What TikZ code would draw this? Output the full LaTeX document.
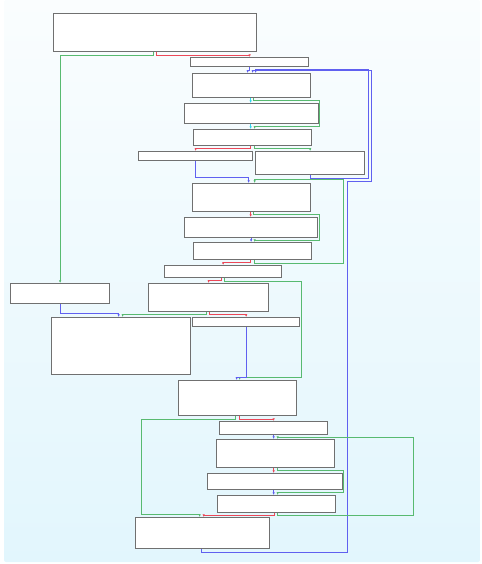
\documentclass[tikz,border=0pt]{standalone}
\usepackage{tikz}
\usetikzlibrary{positioning}
\usetikzlibrary{arrows.meta}
\usepackage{xcolor}
\definecolor{edgegreen}{RGB}{88,186,112}
\definecolor{edgered}{RGB}{236,72,88}
\definecolor{edgeblue}{RGB}{96,96,240}
\definecolor{edgecyan}{RGB}{50,214,238}
\definecolor{boxline}{RGB}{112,112,112}
\definecolor{bgtop}{RGB}{250,253,254}
\definecolor{bgbottom}{RGB}{226,246,253}

\begin{document}
\begin{tikzpicture}[x=1bp, y=-1bp,
		blk/.style={draw=boxline, line width=1.3bp, fill=white, inner sep=0pt, anchor=north west},
		edge/.style={line width=1bp, -{Latex[length=2.6bp,width=2.4bp]}},
		yes/.style={edge, edgegreen},
		no/.style={edge, edgered},
		jmp/.style={edge, edgeblue},
		seq/.style={edge, edgecyan}]
				\useasboundingbox (0,0) rectangle (482,564);
				\shade[top color=bgtop, bottom color=bgbottom, rounded corners=2bp] (4,0) rectangle (480,562);

				\node[blk, minimum width=203bp, minimum height=38bp] (A) at (53,13) {};
				\node[blk, minimum width=118bp, minimum height=9bp] (B) at (190,57) {};
				\node[blk, minimum width=118bp, minimum height=24bp] (C) at (192,73) {};
				\node[blk, minimum width=134bp, minimum height=20bp] (D) at (184,103) {};
				\node[blk, minimum width=118bp, minimum height=16bp] (E) at (193,129) {};
				\node[blk, minimum width=114bp, minimum height=9bp] (Fl) at (138,151) {};
				\node[blk, minimum width=109bp, minimum height=23bp] (Fr) at (255,151) {};
				\node[blk, minimum width=118bp, minimum height=28bp] (G) at (192,183) {};
				\node[blk, minimum width=133bp, minimum height=20bp] (H) at (184,217) {};
				\node[blk, minimum width=118bp, minimum height=17bp] (I) at (193,242) {};
				\node[blk, minimum width=117bp, minimum height=12bp] (J) at (164,265) {};
				\node[blk, minimum width=120bp, minimum height=28bp] (K) at (148,283) {};
				\node[blk, minimum width=99bp, minimum height=20bp] (La) at (10,283) {};
				\node[blk, minimum width=139bp, minimum height=57bp] (Lb) at (51,317) {};
				\node[blk, minimum width=107bp, minimum height=9bp] (N) at (192,317) {};
				\node[blk, minimum width=118bp, minimum height=35bp] (M) at (178,380) {};
				\node[blk, minimum width=108bp, minimum height=13bp] (O) at (219,421) {};
				\node[blk, minimum width=118bp, minimum height=28bp] (P) at (216,439) {};
				\node[blk, minimum width=135bp, minimum height=16bp] (Q) at (207,473) {};
				\node[blk, minimum width=118bp, minimum height=17bp] (R) at (217,495) {};
				\node[blk, minimum width=134bp, minimum height=31bp] (Z) at (135,517) {};

				\draw[no] ([xshift=1.5bp]A.south) -- ++(0,3) -| (B.north);
				\draw[yes] ([xshift=-1.5bp]A.south) -- ++(0,3) -| (La.north);
				\draw[jmp] (B.south) -- ++(0,3) -| ([xshift=-4bp]C.north);
				\draw[jmp] (Fr.south) -- ++(0,3) -| (368.5,69.5) -| ([xshift=4bp]C.north);
				\draw[jmp] ([xshift=-1bp]Z.south) -- ++(0,3) -| (347.5,181.5) -| (371.5,70.5) -| ([xshift=1bp]C.north);
				\draw[seq] ([xshift=-1bp]C.south) -- ([xshift=-1bp]C.south |- D.north);
				\draw[yes] ([xshift=2bp]C.south) -- ++(0,2) -| (319.5,126.5) -| ([xshift=2bp]E.north);
				\draw[seq] ([xshift=-1bp]D.south) -- ([xshift=-1bp]D.south |- E.north);
				\draw[no] ([xshift=-2bp]E.south) -- ++(0,2) -| (Fl.north);
				\draw[yes] ([xshift=2bp]E.south) -- ++(0,2) -| (Fr.north);
				\draw[jmp] (Fl.south) |- ([xshift=-3bp,yshift=6bp]G.north) -- ([xshift=-3bp]G.north);
				\draw[yes] ([xshift=2bp]I.south) -- ++(0,3) -| (343.5,179.5) -| ([xshift=3bp]G.north);
				\draw[no] ([xshift=-1bp]G.south) -- ([xshift=-1bp]G.south |- H.north);
				\draw[yes] ([xshift=2bp]G.south) -- ++(0,2) -| (319.5,240.5) -| ([xshift=2bp]I.north);
				\draw[jmp] (H.south) -- (H.south |- I.north);
				\draw[no] ([xshift=-2bp]I.south) -- ++(0,2) -| (J.north);
				\draw[no] ([xshift=-1.5bp]J.south) -- ++(0,2) -| (K.north);
				\draw[yes] ([xshift=1.5bp]J.south) -- ++(0,3) -| (301.5,377.5) -| ([xshift=2bp]M.north);
				\draw[yes] ([xshift=-2bp]K.south) -- ++(0,2) -| ([xshift=1.5bp]Lb.north);
				\draw[no] ([xshift=1bp]K.south) -- ++(0,2) -| (N.north);
				\draw[jmp] (La.south) |- ([xshift=-2.5bp,yshift=4bp]Lb.north) -- ([xshift=-2.5bp]Lb.north);
				\draw[jmp] (N.south) |- ([xshift=-1bp,yshift=3bp]M.north) -- ([xshift=-1bp]M.north);
				\draw[no] ([xshift=2bp]M.south) -- ++(0,3) -| (O.north);
				\draw[yes] ([xshift=-2bp]M.south) -- ++(0,3) -| (141.5,514.5) -| ([xshift=-3bp]Z.north);
				\draw[jmp] (O.south) -- (O.south |- P.north);
				\draw[no] ([xshift=-2bp]P.south) -- ([xshift=-2bp]P.south |- Q.north);
				\draw[yes] ([xshift=2bp]P.south) -- ++(0,2) -| (343.5,492.5) -| ([xshift=1bp]R.north);
				\draw[jmp] ([xshift=-1.5bp]Q.south) -- ([xshift=-1.5bp]Q.south |- R.north);
				\draw[no] ([xshift=-2bp]R.south) -- ++(0,2) -| ([xshift=1bp]Z.north);
				\draw[yes] ([xshift=1bp]R.south) -- ++(0,2) -| (413.5,437.5) -| ([xshift=2bp]P.north);
\end{tikzpicture}
\end{document}
